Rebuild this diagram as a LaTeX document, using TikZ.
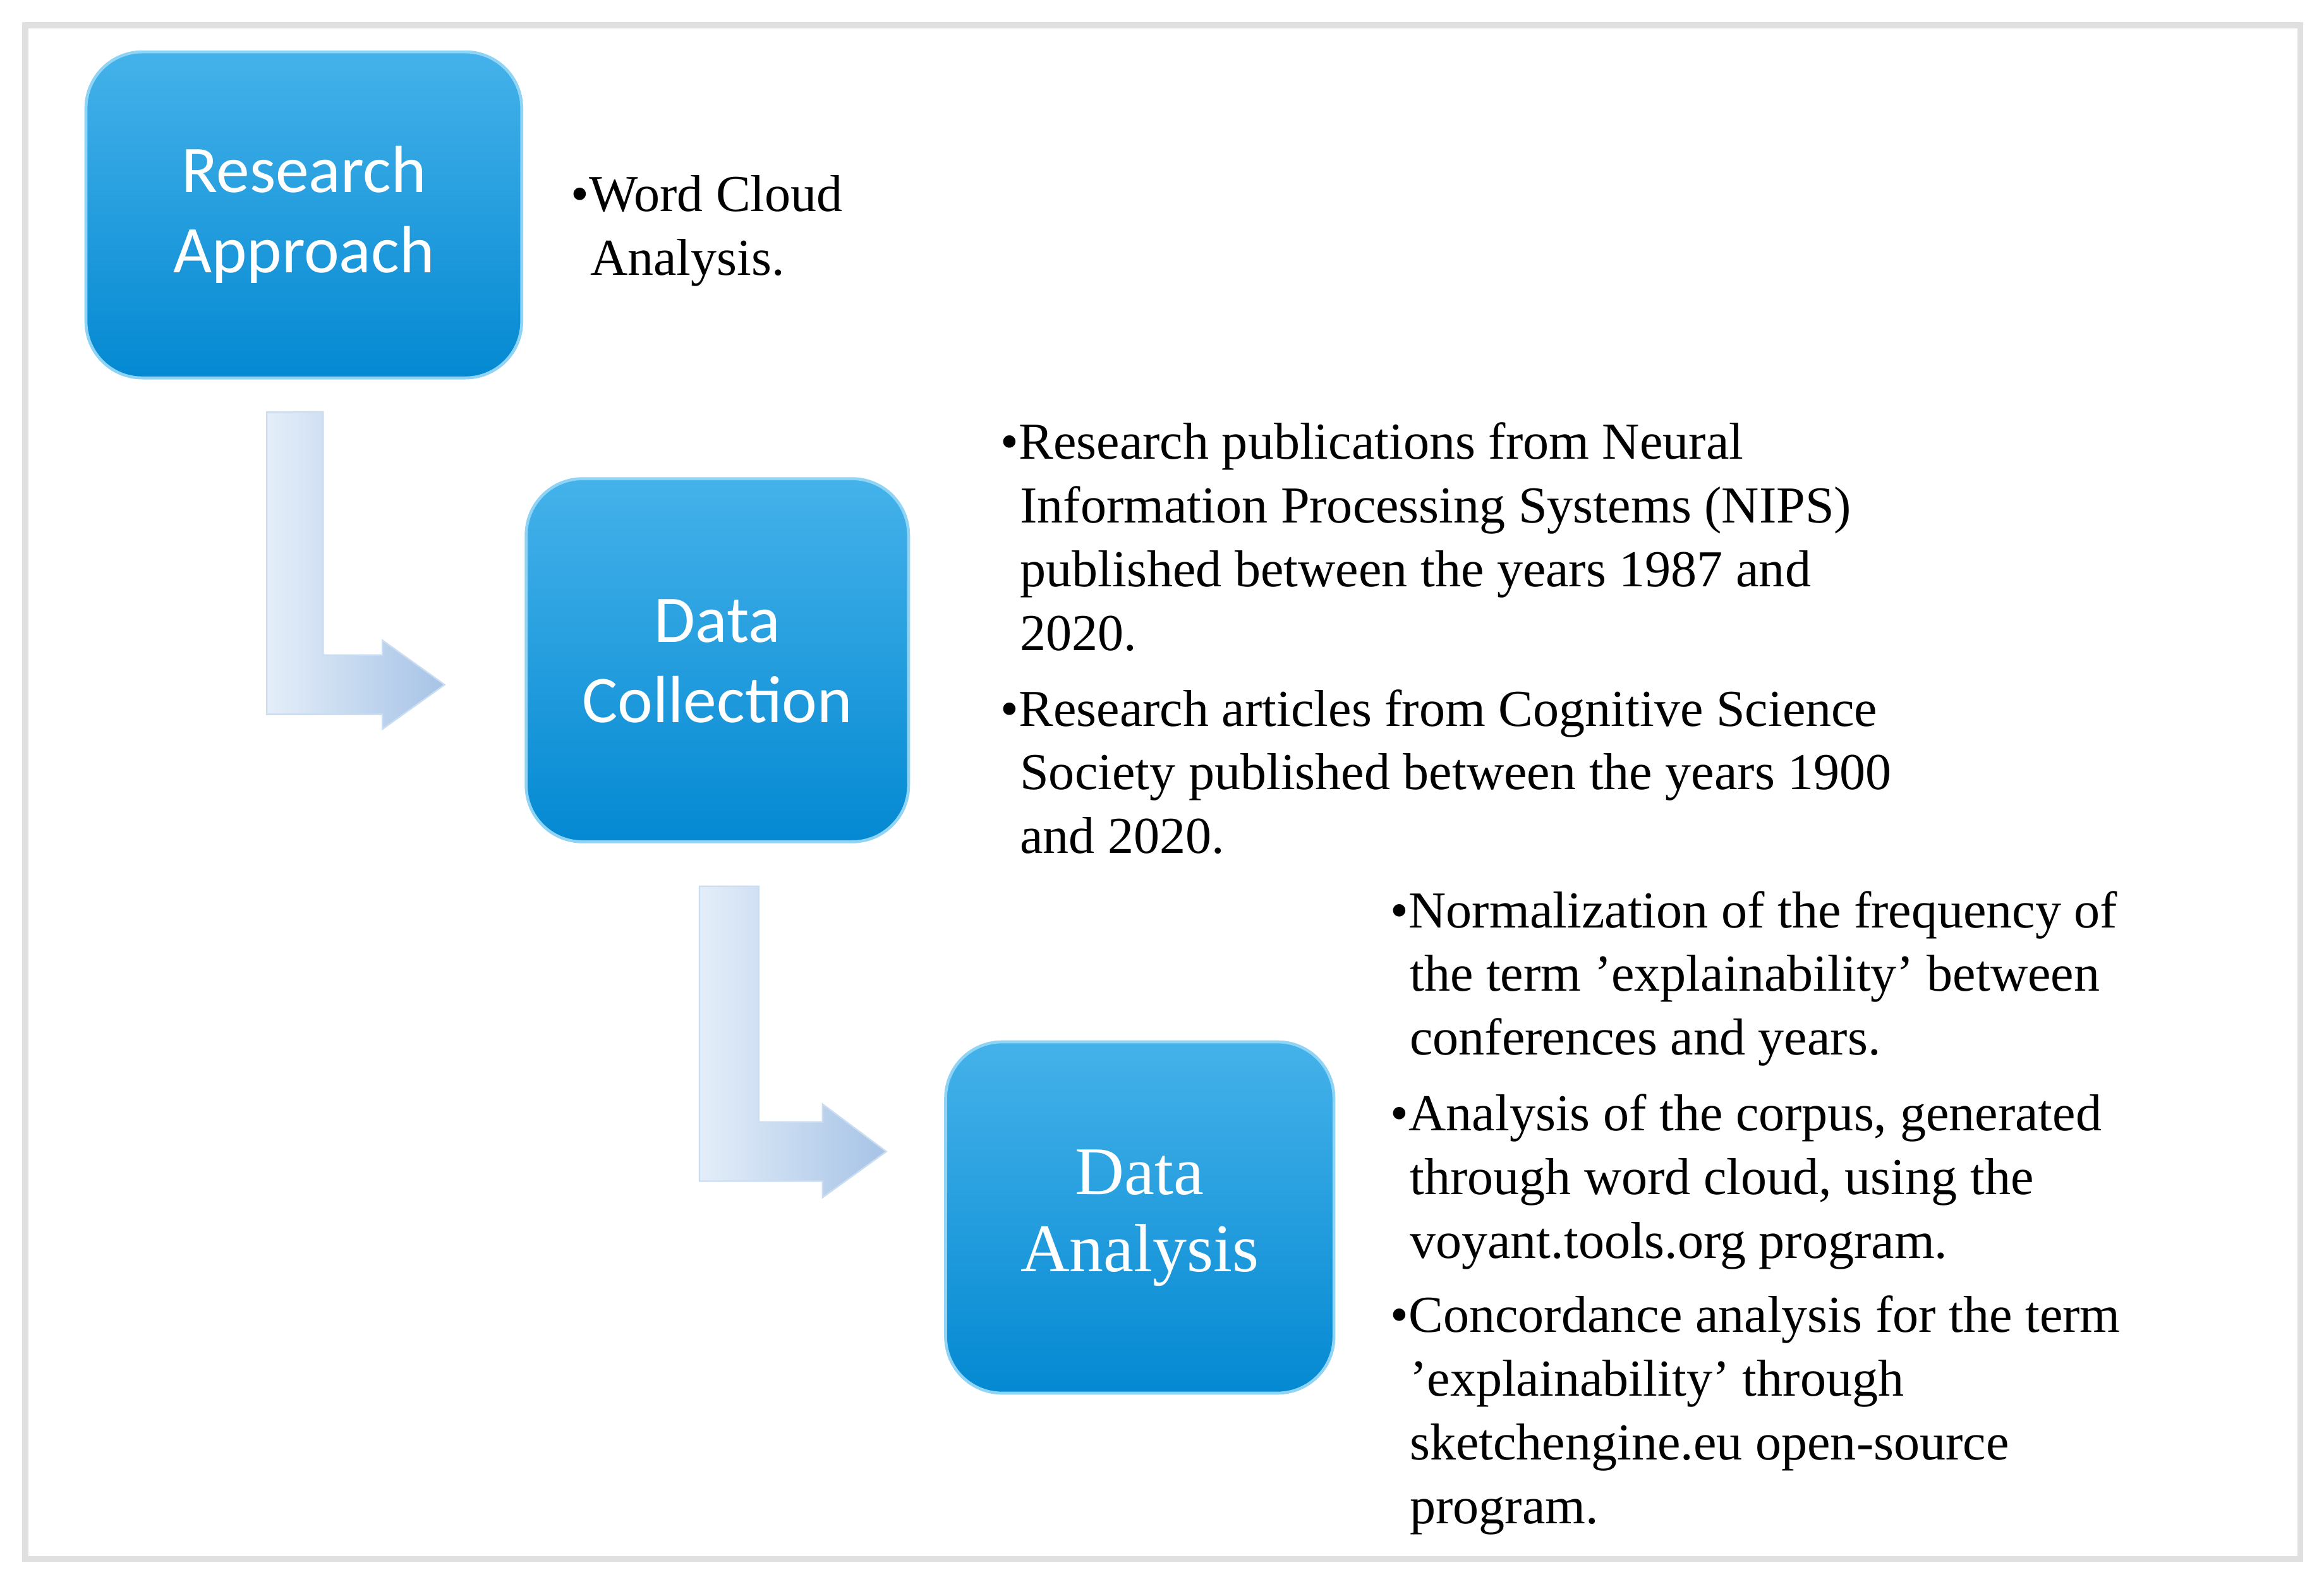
\documentclass[tikz,border=0pt]{standalone}
\usepackage{fontspec}
\setmainfont{Liberation Serif}
\newfontfamily\boxsans{Carlito}
\begin{document}
\begin{tikzpicture}[x=1pt,y=-1pt,
  stage/.style={rounded corners=38pt,top color=boxtop,bottom color=boxbot,draw=boxedge,line width=2pt},
  lbl/.style={text=white,align=center,inner sep=0},
  bul/.style={anchor=north west,align=left,inner sep=0,font=\fontsize{35}{43}\selectfont},
  larrow/.style={left color=arrl,right color=arrr,draw=arrl!60!arrr,line width=1pt}]
\definecolor{boxtop}{HTML}{45B2EA}
\definecolor{boxbot}{HTML}{0489D2}
\definecolor{boxedge}{HTML}{8FD3F5}
\definecolor{arrl}{HTML}{E4EEF9}
\definecolor{arrr}{HTML}{A6C3E6}
\useasboundingbox (0,0) rectangle (1568,1072);
\draw[draw=black!12,line width=4pt] (17,17) rectangle (1552,1052);
% arrows
\path[larrow] (180,278) -- (218,278) -- (218,442) -- (258,442) -- (258,432) -- (300,462) -- (258,492) -- (258,482) -- (180,482) -- cycle;
\path[larrow] (472,598) -- (512,598) -- (512,757) -- (555,757) -- (555,745) -- (598,777) -- (555,808) -- (555,797) -- (472,797) -- cycle;
% boxes
\path[stage] (58,35) rectangle (352,255);
\path[stage] (355,323) rectangle (613,568);
\path[stage] (638,703) rectangle (900,940);
\node[lbl,font=\boxsans\fontsize{45}{54}\selectfont] (b1) at (205,145) {Research\\Approach};
\node[lbl,font=\boxsans\fontsize{45}{54}\selectfont] (b2) at (484,446) {Data\\Collection};
\node[lbl,font=\fontsize{46}{52}\selectfont] (b3) at (769,822) {Data\\Analysis};
% texts
\node[bul] (t1) at (385,118) {•Word Cloud\\\hspace*{13pt}Analysis.};
\node[bul] (t2) at (675,285) {•Research publications from Neural\\\hspace*{13pt}Information Processing Systems (NIPS)\\\hspace*{13pt}published between the years 1987 and\\\hspace*{13pt}2020.};
\node[bul] (t3) at (675,465) {•Research articles from Cognitive Science\\\hspace*{13pt}Society published between the years 1900\\\hspace*{13pt}and 2020.};
\node[bul] (t4) at (938,601) {•Normalization of the frequency of\\\hspace*{13pt}the term 'explainability' between\\\hspace*{13pt}conferences and years.};
\node[bul] (t5) at (938,738) {•Analysis of the corpus, generated\\\hspace*{13pt}through word cloud, using the\\\hspace*{13pt}voyant.tools.org program.};
\node[bul] (t6) at (938,874) {•Concordance analysis for the term\\\hspace*{13pt}'explainability' through\\\hspace*{13pt}sketchengine.eu open-source\\\hspace*{13pt}program.};
\end{tikzpicture}
\end{document}
